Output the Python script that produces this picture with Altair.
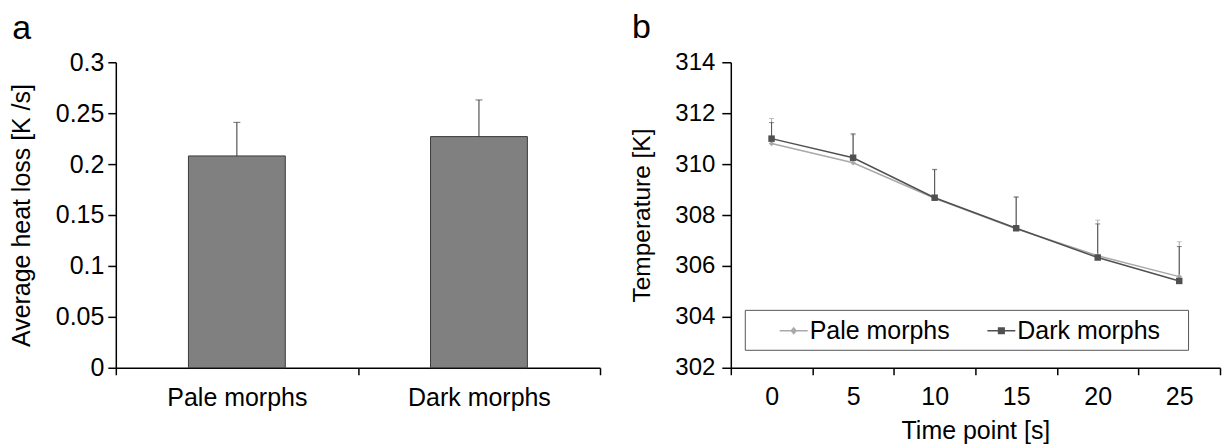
import altair as alt
import pandas as pd

FONT = "Liberation Sans"

# ---- panel a data ----
morphs = ["Pale morphs", "Dark morphs"]
heat_loss = [0.208, 0.227]
heat_loss_se = [0.033, 0.036]
heat_ticks = [0, 0.05, 0.1, 0.15, 0.2, 0.25, 0.3]

# ---- panel b data ----
time_points = ["0", "5", "10", "15", "20", "25"]
pale_temp = [310.81, 310.05, 308.66, 307.46, 306.40, 305.58]
pale_se = [0.98, 1.10, 1.14, 1.26, 1.40, 1.37]
dark_temp = [311.00, 310.25, 308.68, 307.48, 306.33, 305.41]
dark_se = [0.63, 0.94, 1.10, 1.22, 1.32, 1.35]
temp_ticks = [302, 304, 306, 308, 310, 312, 314]

series_names = ["Pale morphs", "Dark morphs"]
series_colors = ["#a9a9a9", "#505050"]
series_shapes = ["diamond", "square"]
series_sizes = [30, 42]
legend_paths = [
    "M-1,0H1M0,-0.2L0.17,0L0,0.2L-0.17,0Z",
    "M-1,0H1M-0.2,-0.2H0.2V0.2H-0.2Z",
]

df_a = pd.DataFrame({"morph": morphs, "mean": heat_loss, "se": heat_loss_se})
df_a["upper"] = df_a["mean"] + df_a["se"]

rows = []
for s, temps, ses in [("Pale morphs", pale_temp, pale_se), ("Dark morphs", dark_temp, dark_se)]:
    for t, m, e in zip(time_points, temps, ses):
        rows.append({"series": s, "time": t, "temp": m, "upper": m + e})
df_b = pd.DataFrame(rows)

axis_common = dict(domainColor="black", tickColor="black", labelColor="black",
                   titleColor="black", domainWidth=1.5, tickWidth=1.5, grid=False,
                   labelFont=FONT, titleFont=FONT, titleFontWeight="normal")

# ---------------- panel a ----------------
xa_axis = alt.Axis(title=None, tickBand="extent", labelAngle=0, labelFontSize=25,
                   labelPadding=11, tickSize=7, **axis_common)
xa_scale = alt.Scale(type="band", paddingInner=0, paddingOuter=0)
ya_scale = alt.Scale(domain=[0, 0.3], nice=False)
ya_axis = alt.Axis(title="Average  heat loss [K /s]", values=heat_ticks, format=".2~f",
                   labelFontSize=25, titleFontSize=25, tickSize=8, labelPadding=4,
                   titlePadding=21, **axis_common)
xa = alt.X("morph:N", sort=morphs, scale=xa_scale, axis=xa_axis)
xa_c = alt.X("morph:N", sort=morphs, scale=xa_scale, axis=xa_axis, bandPosition=0.5)

bars = alt.Chart(df_a).mark_bar(width=alt.RelativeBandSize(0.4), color="#808080",
                                stroke="#3a3a3a", strokeWidth=1).encode(
    x=xa, y=alt.Y("mean:Q", scale=ya_scale, axis=ya_axis))
err_a = alt.Chart(df_a).mark_rule(color="#333333", strokeWidth=1).encode(
    x=xa_c, y=alt.Y("mean:Q", scale=ya_scale, axis=ya_axis), y2="upper:Q")
cap_a = alt.Chart(df_a).mark_tick(orient="horizontal", size=7, thickness=1, color="#333333").encode(
    x=xa_c, y=alt.Y("upper:Q", scale=ya_scale, axis=ya_axis))

panel_a = alt.layer(bars, err_a, cap_a).properties(
    width=485, height=306,
    title=alt.TitleParams("a", anchor="start", fontSize=34, font=FONT, fontWeight="normal",
                          color="black", dx=3, offset=4))

# ---------------- panel b ----------------
xb_axis = alt.Axis(title="Time point [s]", tickBand="extent", labelAngle=0, labelFontSize=25,
                   titleFontSize=25, labelPadding=10, tickSize=7, titlePadding=9, **axis_common)
xb_scale = alt.Scale(type="band", paddingInner=0, paddingOuter=0)
xb = alt.X("time:O", sort=time_points, scale=xb_scale, axis=xb_axis, bandPosition=0.5)
yb_scale = alt.Scale(domain=[302, 314], nice=False, zero=False)
yb_axis = alt.Axis(title="Temperature [K]", values=temp_ticks, format="d", labelFontSize=24,
                   titleFontSize=24.5, tickSize=9, labelPadding=7, titlePadding=20, **axis_common)
yb = alt.Y("temp:Q", scale=yb_scale, axis=yb_axis)
yb_up = alt.Y("upper:Q", scale=yb_scale, axis=yb_axis)

layers_b = []
for name, colr in zip(series_names, series_colors):
    base = alt.Chart(df_b).transform_filter(alt.datum.series == name)
    layers_b.append(base.mark_rule(strokeWidth=1, color=colr).encode(x=xb, y=yb, y2="upper:Q"))
    layers_b.append(base.mark_tick(orient="horizontal", size=5, thickness=1, color=colr).encode(
        x=xb, y=yb_up))
for name, colr, shp, sz in zip(series_names, series_colors, series_shapes, series_sizes):
    base = alt.Chart(df_b).transform_filter(alt.datum.series == name)
    layers_b.append(base.mark_line(strokeWidth=1.5, color=colr).encode(x=xb, y=yb))
    layers_b.append(base.mark_point(shape=shp, filled=True, size=sz, opacity=1, color=colr).encode(
        x=xb, y=yb))

legend_def = alt.Legend(title="\u00a0", titleOrient="right", titlePadding=22, titleFontSize=25,
                        titleFont=FONT, orient="none", legendX=14, legendY=248,
                        direction="horizontal", strokeColor="#555555", fillColor="white",
                        padding=6, symbolOffset=28, labelOffset=1, columnPadding=8,
                        labelFontSize=25, labelFont=FONT, labelColor="black",
                        symbolSize=784, symbolStrokeWidth=1.5, symbolOpacity=1)
legend_layer = alt.Chart(df_b).mark_point(filled=True, opacity=0).encode(
    x=xb, y=yb,
    color=alt.Color("series:N", scale=alt.Scale(domain=series_names, range=series_colors),
                    legend=legend_def),
    stroke=alt.Stroke("series:N", scale=alt.Scale(domain=series_names, range=series_colors),
                      legend=legend_def),
    shape=alt.Shape("series:N", scale=alt.Scale(domain=series_names, range=legend_paths),
                    legend=legend_def))
layers_b.append(legend_layer)

panel_b = alt.layer(*layers_b).properties(
    width=490, height=306,
    title=alt.TitleParams("b", anchor="start", fontSize=34, font=FONT, fontWeight="normal",
                          color="black", dx=2, offset=5))

chart = alt.hconcat(panel_a, panel_b, spacing=28).resolve_legend(
    color="independent", stroke="independent", shape="independent"
).properties(
    padding={"left": 9, "top": 11, "right": 3, "bottom": 2}, background="white"
).configure_view(stroke=None)

chart.save("out.html", embed_options={"renderer": "svg", "actions": False})
